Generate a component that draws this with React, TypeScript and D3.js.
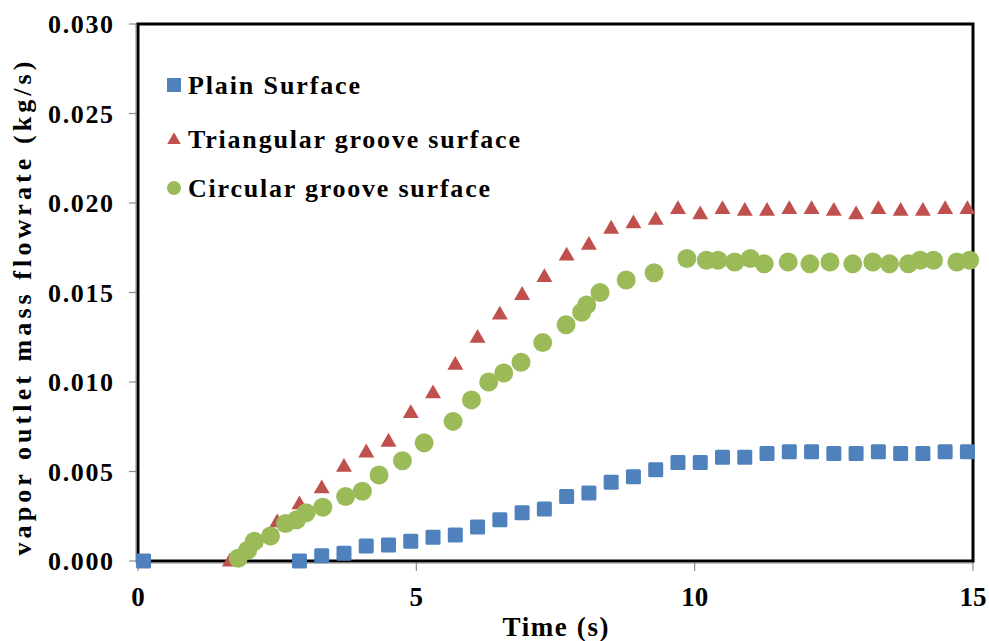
import React from 'react';
import { scaleLinear, symbol, symbolTriangle } from 'd3';

// Time (s) / vapor outlet mass flowrate (kg/s)
const plainTime = [0.1, 2.9, 3.3, 3.7, 4.1, 4.5, 4.9, 5.3, 5.7, 6.1, 6.5, 6.9, 7.3, 7.7, 8.1, 8.5, 8.9, 9.3, 9.7, 10.1, 10.5, 10.9, 11.3, 11.7, 12.1, 12.5, 12.9, 13.3, 13.7, 14.1, 14.5, 14.9];
const plainFlow = [0.0, 0.0, 0.0003, 0.00043, 0.00084, 0.00089, 0.0011, 0.00132, 0.00145, 0.0019, 0.0023, 0.0027, 0.0029, 0.0036, 0.0038, 0.0044, 0.0047, 0.0051, 0.0055, 0.0055, 0.0058, 0.0058, 0.006, 0.0061, 0.0061, 0.006, 0.006, 0.0061, 0.006, 0.006, 0.0061, 0.0061];

const triTime = [1.65, 2.1, 2.5, 2.9, 3.3, 3.7, 4.1, 4.5, 4.9, 5.3, 5.7, 6.1, 6.5, 6.9, 7.3, 7.7, 8.1, 8.5, 8.9, 9.3, 9.7, 10.1, 10.5, 10.9, 11.3, 11.7, 12.1, 12.5, 12.9, 13.3, 13.7, 14.1, 14.5, 14.9];
const triFlow = [0.0, 0.0011, 0.0022, 0.0032, 0.0041, 0.0053, 0.0061, 0.0067, 0.0083, 0.0094, 0.011, 0.0125, 0.0138, 0.0149, 0.0159, 0.0171, 0.0177, 0.0186, 0.0189, 0.0191, 0.0197, 0.0194, 0.0197, 0.0196, 0.0196, 0.0197, 0.0197, 0.0196, 0.0194, 0.0197, 0.0196, 0.0196, 0.0197, 0.0197];

const circTime = [1.8, 1.97, 2.09, 2.38, 2.65, 2.85, 3.02, 3.32, 3.73, 4.03, 4.33, 4.75, 5.14, 5.66, 5.99, 6.3, 6.57, 6.88, 7.27, 7.69, 7.97, 8.06, 8.3, 8.77, 9.27, 9.86, 10.21, 10.42, 10.72, 11.0, 11.25, 11.68, 12.07, 12.43, 12.84, 13.2, 13.5, 13.84, 14.05, 14.29, 14.71, 14.94];
const circFlow = [0.00015, 0.0006, 0.0011, 0.0014, 0.0021, 0.0023, 0.0027, 0.003, 0.0036, 0.0039, 0.0048, 0.0056, 0.0066, 0.0078, 0.009, 0.01, 0.0105, 0.0111, 0.0122, 0.0132, 0.0139, 0.0143, 0.015, 0.0157, 0.0161, 0.0169, 0.0168, 0.0168, 0.0167, 0.0169, 0.0166, 0.0167, 0.0166, 0.0167, 0.0166, 0.0167, 0.0166, 0.0166, 0.0168, 0.0168, 0.0167, 0.0168];

const xTicks = [0, 5, 10, 15];
const yTicks = [0, 0.005, 0.01, 0.015, 0.02, 0.025, 0.03];
const seriesNames = ['Plain Surface', 'Triangular groove surface', 'Circular groove surface'];

const BLUE = '#4f81bd';
const RED = '#c0504d';
const GREEN = '#9bbb59';
const FONT = '"Liberation Serif", "Times New Roman", serif';

const W = 989;
const H = 641;
const plot = { left: 138, right: 973, top: 24, bottom: 561 };

export default function App() {
  const x = scaleLinear().domain([0, 15]).range([plot.left, plot.right]);
  const y = scaleLinear().domain([0, 0.03]).range([plot.bottom, plot.top]);
  const tri = symbol().type(symbolTriangle).size(110)() as string;
  const triSmall = symbol().type(symbolTriangle).size(80)() as string;

  const legendWidths = [172, 332, 302];
  const legendY = [85, 139, 188];

  return (
    <div style={{ position: 'fixed', left: 0, top: 0 }}>
      <svg width={W} height={H} style={{ display: 'block', background: '#fff' }} fontFamily={FONT} fontWeight="bold">
        {/* ticks */}
        {yTicks.map((t) => (
          <g key={'y' + t}>
            <line x1={plot.left - 9} x2={plot.left} y1={y(t)} y2={y(t)} stroke="#8c8c8c" strokeWidth={1.2} />
            <text x={113} y={y(t)} dy="0.35em" textAnchor="end" fontSize={26} textLength={65} lengthAdjust="spacing">
              {t.toFixed(3)}
            </text>
          </g>
        ))}
        {xTicks.map((t) => (
          <g key={'x' + t}>
            <line x1={x(t)} x2={x(t)} y1={plot.bottom} y2={plot.bottom + 10} stroke="#8c8c8c" strokeWidth={1.2} />
            <text x={x(t)} y={606} textAnchor="middle" fontSize={27}>
              {t}
            </text>
          </g>
        ))}

        {/* frame */}
        <rect x={plot.left} y={plot.top} width={plot.right - plot.left} height={plot.bottom - plot.top} fill="none" stroke="#000" strokeWidth={3} />
        <line x1={plot.left - 2} x2={plot.left - 2} y1={plot.top} y2={plot.bottom + 2} stroke="#7f7f7f" strokeWidth={1} />
        <line x1={plot.left - 2} x2={plot.right} y1={plot.bottom + 2} y2={plot.bottom + 2} stroke="#7f7f7f" strokeWidth={1} />

        {/* series */}
        {plainTime.map((t, i) => (
          <rect key={'p' + i} x={x(t) - 7.5} y={y(plainFlow[i]) - 7.5} width={15} height={15} rx={1.5} fill={BLUE} />
        ))}
        {triTime.map((t, i) => (
          <path key={'t' + i} d={tri} transform={`translate(${x(t)},${y(triFlow[i]) + 1})`} fill={RED} />
        ))}
        {circTime.map((t, i) => (
          <circle key={'c' + i} cx={x(t)} cy={y(circFlow[i])} r={9.5} fill={GREEN} />
        ))}

        {/* legend */}
        <rect x={167} y={legendY[0] - 7} width={14} height={14} fill={BLUE} />
        <path d={triSmall} transform={`translate(174,${legendY[1] + 1})`} fill={RED} />
        <circle cx={174} cy={legendY[2]} r={7} fill={GREEN} />
        {seriesNames.map((n, i) => (
          <text key={n} x={188} y={legendY[i]} dy="0.35em" fontSize={26} textLength={legendWidths[i]} lengthAdjust="spacing">
            {n}
          </text>
        ))}

        {/* axis titles */}
        <text x={(plot.left + plot.right) / 2} y={636} textAnchor="middle" fontSize={27} textLength={106} lengthAdjust="spacing">
          Time (s)
        </text>
        <text
          transform={`translate(31,${(plot.top + plot.bottom) / 2 + 16}) rotate(-90)`}
          textAnchor="middle"
          fontSize={26}
          textLength={494}
          lengthAdjust="spacing"
        >
          vapor outlet mass flowrate (kg/s)
        </text>
      </svg>
    </div>
  );
}
